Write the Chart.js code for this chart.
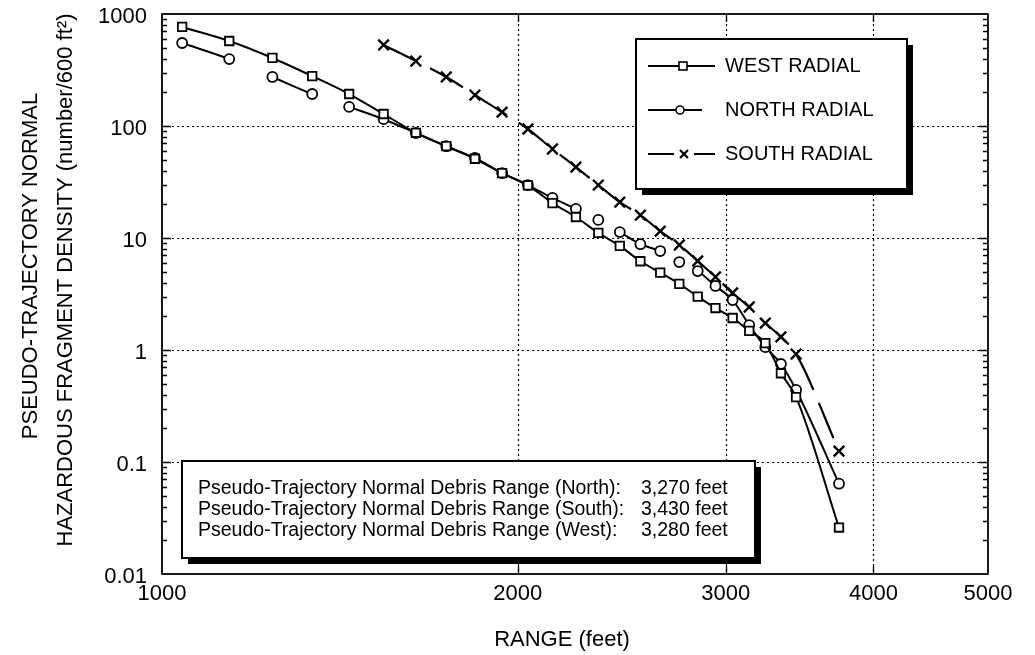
<!DOCTYPE html>
<html><head><meta charset="utf-8">
<script src="https://cdn.jsdelivr.net/npm/chart.js@4.4.1/dist/chart.umd.min.js"></script>
<style>html,body{margin:0;padding:0;background:#fff;}#wrap{width:1035px;height:655px;position:relative;}</style>
</head><body><div id="wrap"><canvas id="c" width="1035" height="655"></canvas></div>
<script>
// ---- data ----
const rangeFt = [1040,1140,1240,1340,1440,1540,1640,1740,1840,1940,2040,2140,2240,2340,2440,2540,2640,2740,2840,2940,3040,3140,3240,3340,3440,3740];
const westDensity  = [766,574,405,279,193,128,87,66,51,38,29.5,20.5,15.4,11.1,8.5,6.2,4.9,3.9,3.0,2.37,1.93,1.48,1.15,0.62,0.38,0.026];
const northDensity = [551,396,274,193,148,115,86.6,66,51.8,38,29.7,22.8,18.2,14.5,11.3,8.8,7.65,6.1,5.07,3.73,2.79,1.67,1.06,0.75,0.44,0.064];
const southDensity = [null,null,null,null,null,529,380,274,189,133,94,62.3,43,29.7,20.9,16.0,11.5,8.66,6.23,4.49,3.23,2.42,1.74,1.31,0.92,0.125];
const northUnjoinedFrom = [1140,1340,2240,2340,2640,2740];
const seriesNames = ['WEST RADIAL','NORTH RADIAL','SOUTH RADIAL'];
const xTickValues = [1000,2000,3000,4000,5000];
const yTickValues = [0.01,0.1,1,10,100,1000];
const xTitle = 'RANGE (feet)';
const yTitleLines = ['PSEUDO-TRAJECTORY NORMAL','HAZARDOUS FRAGMENT DENSITY (number/600 ft\u00B2)'];
const debrisLabels = ['Pseudo-Trajectory Normal Debris Range (North):','Pseudo-Trajectory Normal Debris Range (South):','Pseudo-Trajectory Normal Debris Range (West):'];
const debrisValues = ['3,270 feet','3,430 feet','3,280 feet'];

const FONT = '"Liberation Sans", Arial, Helvetica, sans-serif';
const toXY = ys => rangeFt.map((x,i)=>({x:x,y:ys[i]})).filter(p=>p.y!==null);

const decor = {
  id:'decor',
  beforeDatasetsDraw(chart){
    const ctx=chart.ctx, ca=chart.chartArea, xs=chart.scales.x, ys=chart.scales.y;
    ctx.save();
    ctx.strokeStyle='#000'; ctx.lineWidth=1.2; ctx.setLineDash([2,3]);
    xTickValues.filter(v=>v>xs.min&&v<xs.max).forEach(v=>{
      const px=Math.round(xs.getPixelForValue(v))+0.5;
      ctx.beginPath(); ctx.moveTo(px,ca.top); ctx.lineTo(px,ca.bottom); ctx.stroke();
    });
    yTickValues.filter(v=>v>ys.min&&v<ys.max).forEach(v=>{
      const py=Math.round(ys.getPixelForValue(v))+0.5;
      ctx.beginPath(); ctx.moveTo(ca.left,py); ctx.lineTo(ca.right,py); ctx.stroke();
    });
    ctx.restore();
  },
  afterDatasetsDraw(chart){
    const ctx=chart.ctx, ca=chart.chartArea, xs=chart.scales.x, ys=chart.scales.y;
    ctx.save();
    ctx.setLineDash([]); ctx.strokeStyle='#000'; ctx.lineWidth=1.8;
    ctx.strokeRect(ca.left,ca.top,ca.right-ca.left,ca.bottom-ca.top);
    ctx.lineWidth=1.3;
    for(let d=-2; d<=3; d++){
      for(let m=1;m<=9;m++){
        const v=m*Math.pow(10,d);
        if(v<=ys.min*1.0001||v>=ys.max*0.9999) continue;
        const py=Math.round(ys.getPixelForValue(v))+0.5;
        const len = m===1?9:5;
        ctx.beginPath(); ctx.moveTo(ca.left,py); ctx.lineTo(ca.left+len,py);
        ctx.moveTo(ca.right,py); ctx.lineTo(ca.right-len,py); ctx.stroke();
      }
    }
    xTickValues.filter(v=>v>xs.min&&v<xs.max).forEach(v=>{
      const px=Math.round(xs.getPixelForValue(v))+0.5;
      ctx.beginPath(); ctx.moveTo(px,ca.bottom); ctx.lineTo(px,ca.bottom-8);
      ctx.moveTo(px,ca.top); ctx.lineTo(px,ca.top+8); ctx.stroke();
    });

    const drawBox=(x,y,w,h,off)=>{
      ctx.fillStyle='#000'; ctx.fillRect(x+off,y+off,w,h);
      ctx.fillStyle='#fff'; ctx.fillRect(x,y,w,h);
      ctx.lineWidth=2; ctx.strokeStyle='#000'; ctx.strokeRect(x,y,w,h);
    };
    drawBox(636,39,271,150,6);
    const lys=[66,110,154];
    ctx.fillStyle='#000'; ctx.font='20px '+FONT; ctx.textBaseline='middle'; ctx.textAlign='left';
    chart.data.datasets.forEach((ds,i)=>{
      const y=lys[i];
      ctx.strokeStyle='#000'; ctx.lineWidth=ds.borderWidth; ctx.setLineDash([]);
      ctx.beginPath();
      if(i===0){ ctx.moveTo(648,y); ctx.lineTo(715,y); }
      else if(i===1){ ctx.moveTo(648,y); ctx.lineTo(702,y); }
      else { ctx.moveTo(648,y); ctx.lineTo(674,y); ctx.moveTo(694,y); ctx.lineTo(715,y); }
      ctx.stroke();
      ctx.lineWidth=1.6;
      if(ds.pointStyle==='rect'){ ctx.fillStyle='#fff'; ctx.fillRect(679,y-4,8,8); ctx.strokeRect(679,y-4,8,8); }
      else if(ds.pointStyle==='circle'){ ctx.fillStyle='#fff'; ctx.beginPath(); ctx.arc(680,y,4,0,Math.PI*2); ctx.fill(); ctx.stroke(); }
      else { ctx.lineWidth=2.2; ctx.beginPath(); ctx.moveTo(680,y-4); ctx.lineTo(688,y+4); ctx.moveTo(688,y-4); ctx.lineTo(680,y+4); ctx.stroke(); }
      ctx.fillStyle='#000';
      ctx.fillText(ds.label,725,y);
    });

    drawBox(182,461,573,97,6);
    ctx.fillStyle='#000'; ctx.font='19.5px '+FONT; ctx.textBaseline='middle';
    [489,510,531].forEach((y,i)=>{
      ctx.fillText(debrisLabels[i],198,y);
      ctx.fillText(debrisValues[i],641,y);
    });

    ctx.font='22px '+FONT; ctx.textAlign='center'; ctx.textBaseline='middle';
    ctx.fillText(xTitle,562,640);
    ctx.save(); ctx.translate(31,266); ctx.rotate(-Math.PI/2); ctx.fillText(yTitleLines[0],0,0); ctx.restore();
    ctx.save(); ctx.translate(66,280); ctx.rotate(-Math.PI/2); ctx.fillText(yTitleLines[1],0,0); ctx.restore();
    ctx.restore();
  }
};

const zeroPad = s => { s.paddingTop=0; s.paddingBottom=0; s.paddingLeft=0; s.paddingRight=0; };

new Chart(document.getElementById('c'),{
  type:'scatter',
  data:{datasets:[
    {label:seriesNames[0],data:toXY(westDensity),showLine:true,borderColor:'#000',backgroundColor:'#fff',borderWidth:2,
     pointStyle:'rect',pointRadius:6,pointBorderWidth:1.8,pointBackgroundColor:'#fff',cubicInterpolationMode:'monotone'},
    {label:seriesNames[1],data:toXY(northDensity),showLine:true,borderColor:'#000',backgroundColor:'#fff',borderWidth:2,
     pointStyle:'circle',pointRadius:5,pointBorderWidth:1.8,pointBackgroundColor:'#fff',cubicInterpolationMode:'monotone',
     segment:{borderColor:c=>northUnjoinedFrom.includes(c.p0.parsed.x)?'rgba(0,0,0,0)':'#000'}},
    {label:seriesNames[2],data:toXY(southDensity),showLine:true,borderColor:'#000',backgroundColor:'#000',borderWidth:2.2,
     borderDash:[38,14],pointStyle:'crossRot',pointRadius:7.5,pointBorderWidth:2.4,cubicInterpolationMode:'monotone'}
  ]},
  options:{
    responsive:false,animation:false,events:[],devicePixelRatio:1,
    layout:{padding:{top:14,right:47,left:0,bottom:0}},
    plugins:{legend:{display:false},tooltip:{enabled:false}},
    scales:{
      x:{type:'logarithmic',position:'bottom',min:1000,max:5000,
        afterBuildTicks:s=>{s.ticks=xTickValues.map(v=>({value:v}));},
        afterFit:s=>{s.height=81; zeroPad(s);},
        grid:{display:false,drawTicks:false},border:{display:false},
        ticks:{callback:v=>String(v),color:'#000',font:{family:FONT,size:22},padding:7,maxRotation:0,autoSkip:false}},
      y:{type:'logarithmic',position:'left',min:0.01,max:1000,
        afterBuildTicks:s=>{s.ticks=yTickValues.map(v=>({value:v}));},
        afterFit:s=>{s.width=162; zeroPad(s);},
        grid:{display:false,drawTicks:false},border:{display:false},
        ticks:{callback:v=>String(v),color:'#000',font:{family:FONT,size:22},padding:15,labelOffset:3,autoSkip:false}}
    }
  },
  plugins:[decor]
});
</script></body></html>
